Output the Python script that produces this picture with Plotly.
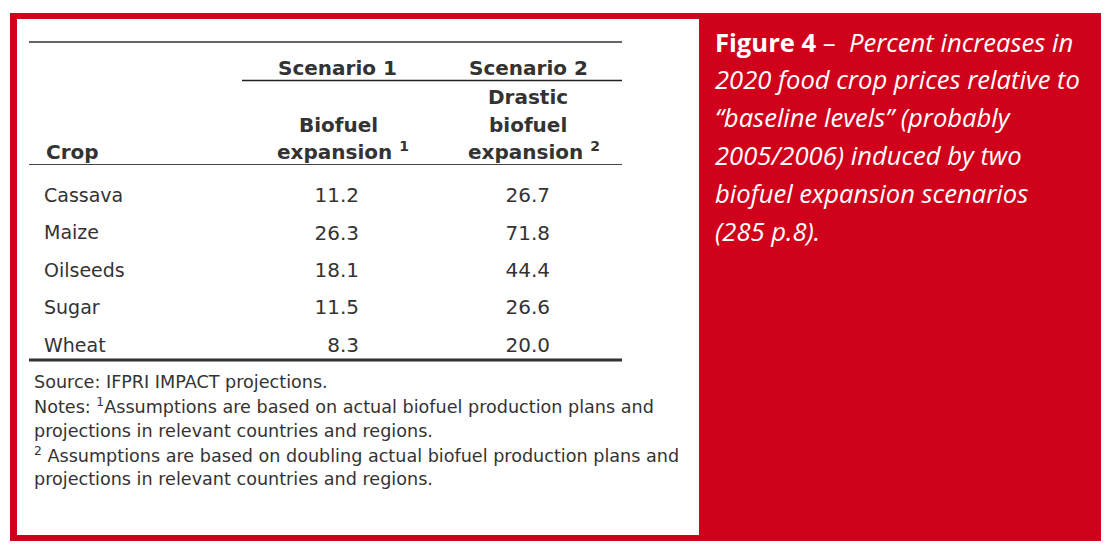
import plotly.graph_objects as go

crops = ["Cassava", "Maize", "Oilseeds", "Sugar", "Wheat"]
scenario1 = ["11.2", "26.3", "18.1", "11.5", "8.3"]
scenario2 = ["26.7", "71.8", "44.4", "26.6", "20.0"]

W, H = 1109, 547
OFF = 8  # page body margin
RED = "#d0021b"
TXT = "#333333"
FONT = "DejaVu Sans"

fig = go.Figure()

row_top, row_bot = 178.5, 365.5

def py(p):
    return 1 - (p - OFF) / H

fig.add_trace(go.Scatter(x=[44] * len(crops), y=crops, mode="text", text=crops,
                         textposition="middle right", xaxis="x", yaxis="y2",
                         textfont=dict(family=FONT, size=19, color=TXT), hoverinfo="skip"))
fig.add_trace(go.Scatter(x=[359] * len(crops), y=crops, mode="text", text=scenario1,
                         textposition="middle left", xaxis="x", yaxis="y2",
                         textfont=dict(family=FONT, size=20, color=TXT), hoverinfo="skip"))
fig.add_trace(go.Scatter(x=[550] * len(crops), y=crops, mode="text", text=scenario2,
                         textposition="middle left", xaxis="x", yaxis="y2",
                         textfont=dict(family=FONT, size=20, color=TXT), hoverinfo="skip"))

shapes = [
    dict(type="rect", xref="x", yref="y", x0=10, x1=W + 20, y0=13, y1=541, fillcolor=RED, line_width=0, layer="below"),
    dict(type="rect", xref="x", yref="y", x0=17, x1=699, y0=19, y1=535, fillcolor="white", line_width=0, layer="below"),
    dict(type="line", xref="x", yref="y", x0=29, x1=622, y0=42, y1=42, line=dict(color="#666666", width=2)),
    dict(type="line", xref="x", yref="y", x0=242, x1=622, y0=80.5, y1=80.5, line=dict(color="#222222", width=1.3)),
    dict(type="line", xref="x", yref="y", x0=29, x1=622, y0=164.5, y1=164.5, line=dict(color="#444444", width=1)),
    dict(type="line", xref="x", yref="y", x0=29, x1=622, y0=360, y1=360, line=dict(color="#333333", width=3)),
]

ann = []
def t(x, y, s, size=17, bold=False, xanchor="center", color=TXT, family=FONT):
    ann.append(dict(x=x, y=y, xref="x", yref="y", text=(f"<b>{s}</b>" if bold else s),
                    showarrow=False, xanchor=xanchor, yanchor="middle",
                    font=dict(family=family, size=size, color=color)))

HS = 20
t(337, 68, "Scenario 1", size=HS, bold=True)
t(528, 68, "Scenario 2", size=HS, bold=True)
t(338, 125, "Biofuel", size=HS, bold=True)
t(343, 151, "expansion <sup>1</sup>", size=HS, bold=True)
t(528, 97, "Drastic", size=HS, bold=True)
t(528, 125, "biofuel", size=HS, bold=True)
t(534, 151, "expansion <sup>2</sup>", size=HS, bold=True)
t(44, 152, "Crop", size=HS, bold=True, xanchor="left")

notes = [
    "Source: IFPRI IMPACT projections.",
    "Notes: <sup>1</sup>Assumptions are based on actual biofuel production plans and",
    "projections in relevant countries and regions.",
    "<sup>2</sup> Assumptions are based on doubling actual biofuel production plans and",
    "projections in relevant countries and regions.",
]
for i, s in enumerate(notes):
    t(32, 382 + i * 24.3, s, size=17.6, xanchor="left")

caption = [
    "<b>Figure 4</b> –  <i>Percent increases in</i>",
    "<i>2020 food crop prices relative to</i>",
    "<i>“baseline levels” (probably</i>",
    "<i>2005/2006) induced by two</i>",
    "<i>biofuel expansion scenarios</i>",
    "<i>(285 p.8).</i>",
]
for i, s in enumerate(caption):
    t(713, 42 + i * 37.8, s, size=25.6, xanchor="left", color="white", family="Open Sans")

fig.update_layout(
    width=W, height=H, margin=dict(l=0, r=0, t=0, b=0),
    paper_bgcolor="white", plot_bgcolor="rgba(0,0,0,0)", showlegend=False,
    xaxis=dict(range=[OFF, W + OFF], visible=False, fixedrange=True),
    yaxis=dict(range=[H + OFF, OFF], visible=False, fixedrange=True),
    yaxis2=dict(type="category", categoryorder="array", categoryarray=crops,
                range=[len(crops) - 0.5, -0.5], domain=[py(row_bot), py(row_top)],
                anchor="x", visible=False, fixedrange=True),
    shapes=shapes, annotations=ann,
)

fig.write_html("out.html")
